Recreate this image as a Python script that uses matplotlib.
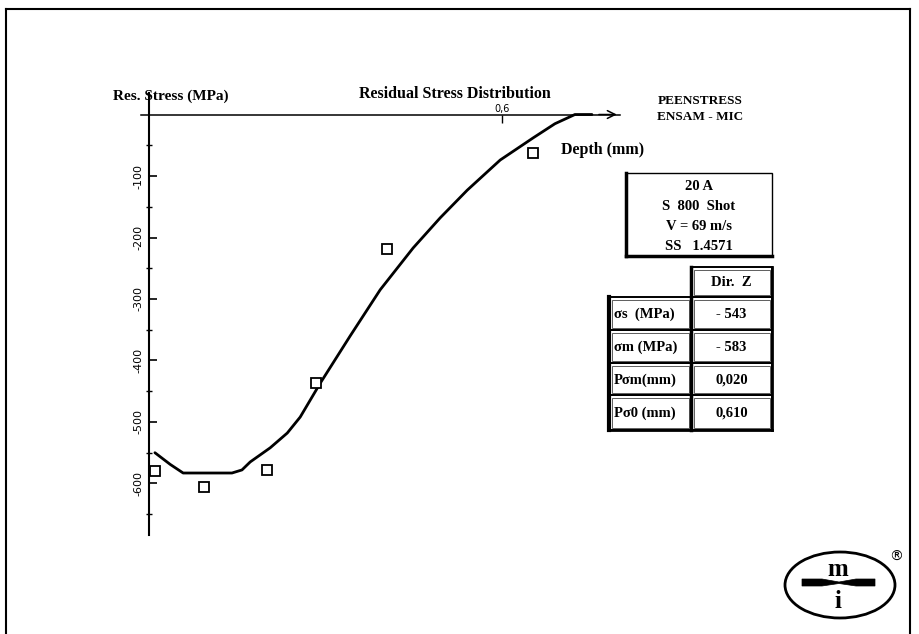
import matplotlib
matplotlib.use("Agg")
import matplotlib.pyplot as plt
from matplotlib.patches import Rectangle, Ellipse, Polygon
from matplotlib.ticker import FixedLocator

# ---- data ----
curve_depth = [0.010, 0.036, 0.058, 0.141, 0.158, 0.172, 0.206, 0.235, 0.257, 0.291,
               0.342, 0.393, 0.449, 0.495, 0.541, 0.597, 0.653, 0.690, 0.724, 0.753]
curve_stress = [-550, -569, -583, -583, -578, -565, -542, -518, -492, -437,
                -360, -285, -217, -168, -123, -74, -38, -15, 0, 0]
meas_depth = [0.010, 0.093, 0.201, 0.284, 0.405, 0.653]
meas_stress = [-580, -606, -578, -437, -219, -63]
ytick_vals = [-100, -200, -300, -400, -500, -600]
ytick_labels = ["-100", "-200", "-300", "-400", "-500", "-600"]
yminor_vals = [-50, -150, -250, -350, -450, -550, -650]
xtick_vals = [0.6]
xtick_labels = ["0,6"]
info_lines = ["20 A", "S  800  Shot", "V = 69 m/s", "SS   1.4571"]
table_header = "Dir.  Z"
table_rows = ["σs  (MPa)", "σm (MPa)", "Pσm(mm)", "Pσ0 (mm)"]
table_vals = ["- 543", "- 583", "0,020", "0,610"]

W, H = 919, 634
fig = plt.figure(figsize=(W / 100, H / 100), dpi=100)
fig.patch.set_facecolor("white")

serif = ["Liberation Serif", "DejaVu Serif"]

# overlay in pixel coordinates
ov = fig.add_axes([0, 0, 1, 1])
ov.set_xlim(0, W)
ov.set_ylim(H, 0)
ov.axis("off")
ov.patch.set_alpha(0)

# frame
ov.plot([6, 6], [9, H], color="black", lw=1.5)
ov.plot([6, 910], [9, 9], color="black", lw=1.5)
ov.plot([910, 910], [9, H], color="black", lw=1.5)

# titles
ov.text(171, 96, "Res. Stress (MPa)", ha="center", va="center", fontsize=11,
        fontweight="bold", family=serif)
ov.text(455, 94, "Residual Stress Distribution", ha="center", va="center", fontsize=11.5,
        fontweight="bold", family=serif)
ov.text(700, 101, "PEENSTRESS", ha="center", va="center", fontsize=9.5,
        fontweight="bold", family=serif)
ov.text(700, 117, "ENSAM - MIC", ha="center", va="center", fontsize=9.5,
        fontweight="bold", family=serif)
ov.text(603, 150, "Depth (mm)", ha="center", va="center", fontsize=11.5,
        fontweight="bold", family=serif)

# info box
bx0, by0, bx1, by1 = 626, 173, 772, 256
ov.add_patch(Rectangle((bx0, by0), bx1 - bx0, by1 - by0, fill=False, lw=1.0, ec="black"))
ov.plot([bx0, bx0], [by0, by1], color="black", lw=2.5)
ov.plot([bx0, bx1], [by1, by1], color="black", lw=2.5)
for i, t in enumerate(info_lines):
    ov.text((bx0 + bx1) / 2, 187 + i * 20, t, ha="center", va="center", fontsize=10.5,
            fontweight="bold", family=serif)

# table
cx0, cx1, cx2 = 609, 691, 772
hy0, hy1 = 267, 297
row_edges = [297, 330, 363, 395, 430]


def cell(x0, y0, x1, y1):
    ov.add_patch(Rectangle((x0, y0), x1 - x0, y1 - y0, fill=False, lw=1.4, ec="black"))
    ov.add_patch(Rectangle((x0 + 2.5, y0 + 2.5), x1 - x0 - 5, y1 - y0 - 5, fill=False,
                           lw=0.6, ec="#444444"))


cell(cx1, hy0, cx2, hy1)
ov.text((cx1 + cx2) / 2, (hy0 + hy1) / 2 + 1, table_header, ha="center", va="center",
        fontsize=10.5, fontweight="bold", family=serif)
for i in range(len(table_rows)):
    y0, y1 = row_edges[i], row_edges[i + 1]
    cell(cx0, y0, cx1, y1)
    cell(cx1, y0, cx2, y1)
    ov.text(cx0 + 5, (y0 + y1) / 2 + 1, table_rows[i], ha="left", va="center",
            fontsize=10.5, fontweight="bold", family=serif)
    ov.text((cx1 + cx2) / 2, (y0 + y1) / 2 + 1, table_vals[i], ha="center", va="center",
            fontsize=10.5, fontweight="bold", family=serif)
ov.plot([cx0, cx0], [row_edges[0], row_edges[-1]], color="black", lw=3)
ov.plot([cx1, cx1], [hy0, row_edges[-1]], color="black", lw=2.5)
ov.plot([cx2, cx2], [hy0, row_edges[-1]], color="black", lw=2)
ov.plot([cx0, cx2], [row_edges[-1], row_edges[-1]], color="black", lw=2)

# logo
ov.add_patch(Ellipse((840, 585), 110, 66, fill=False, lw=2.0, ec="black"))
ov.text(838, 569, "m", ha="center", va="center", fontsize=18, fontweight="bold",
        family=serif)
ov.text(838, 601, "i", ha="center", va="center", fontsize=18, fontweight="bold",
        family=serif)
ov.add_patch(Polygon([(802, 579), (822, 579), (839, 582), (856, 579), (875, 579),
                      (875, 586), (856, 586), (839, 583.5), (822, 586), (802, 586)],
                     closed=True, fc="black", ec="black", lw=0.5))
ov.text(896, 557, "®", ha="center", va="center", fontsize=10, family=["DejaVu Sans"])

# data axes mapped to pixel positions
px_x0, px_x1 = 140.8, 619.6
px_ytop, px_ybot = 93.0, 534.5
ax = fig.add_axes([px_x0 / W, (H - px_ybot) / H, (px_x1 - px_x0) / W, (px_ybot - px_ytop) / H])
ax.patch.set_alpha(0)
ax.set_xlim(-0.014, 0.80)
ax.set_ylim(-683, 35)

ax.spines["right"].set_visible(False)
ax.spines["bottom"].set_visible(False)
ax.spines["left"].set_position(("data", 0))
ax.spines["top"].set_position(("data", 0))
ax.spines["left"].set_linewidth(1.5)
ax.spines["top"].set_linewidth(1.1)

ax.xaxis.tick_top()
ax.set_xticks(xtick_vals)
ax.set_xticklabels(xtick_labels, fontsize=7)
ax.tick_params(axis="x", direction="in", length=6, width=1, pad=0.5)

ax.set_yticks(ytick_vals)
ax.set_yticklabels(ytick_labels, fontsize=8, rotation=90, va="center")
ax.yaxis.set_minor_locator(FixedLocator(yminor_vals))
ax.tick_params(axis="y", which="major", direction="in", length=6, width=1.2, pad=4)
ax.tick_params(axis="y", which="minor", direction="inout", length=4, width=1)

ax.annotate("", xy=(0.80, 0), xytext=(0.76, 0),
            arrowprops=dict(arrowstyle="->", lw=1.1, color="black",
                            mutation_scale=14))

ax.plot(curve_depth, curve_stress, color="black", lw=2.0, solid_capstyle="round")
ax.plot(meas_depth, meas_stress, linestyle="none", marker="s", markersize=6.5,
        markerfacecolor="white", markeredgecolor="black", markeredgewidth=1.3)

fig.savefig("out.png", dpi=100)
